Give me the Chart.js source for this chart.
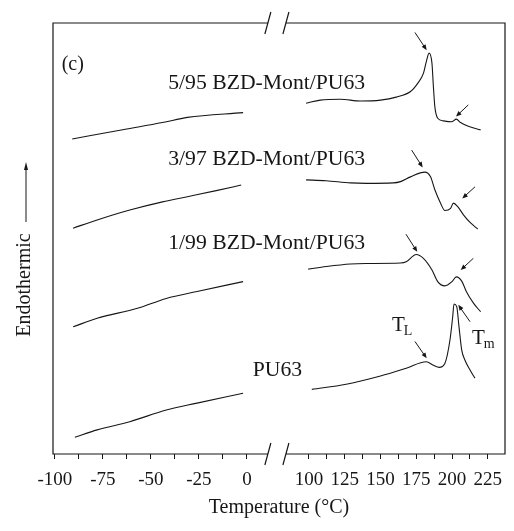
<!DOCTYPE html>
<html>
<head>
<meta charset="utf-8">
<script src="https://cdn.jsdelivr.net/npm/chart.js@4.4.0/dist/chart.umd.min.js"></script>
<style>
  html, body { margin: 0; padding: 0; background: #fff; }
  #wrap { width: 514px; height: 531px; }
</style>
</head>
<body>
<div id="wrap"><canvas id="dsc" width="514" height="531"></canvas></div>
<script>
// DSC heating traces, temperature in °C, heat flow in arbitrary units (endo up)
const curveNames = ['5/95 BZD-Mont/PU63', '3/97 BZD-Mont/PU63', '1/99 BZD-Mont/PU63', 'PU63'];

const t595L = [-91, -64, -44, -31, -2];
const h595L = [73.1, 75.3, 76.9, 78.1, 79.2];
const t595R = [98, 108, 122, 136, 150, 161, 171, 176, 180, 182, 184, 186, 187, 188, 190, 194, 200, 203, 206, 211, 220];
const h595R = [81.4, 82.1, 82.3, 81.9, 82.1, 82.8, 84.1, 86.0, 88.3, 91.0, 93.0, 90.6, 85.2, 80.6, 77.9, 77.3, 77.1, 77.7, 76.9, 76.1, 75.2];

const t397L = [-90.5, -78, -61, -44, -31, -16, -3];
const h397L = [52.4, 54.3, 56.6, 58.5, 59.7, 61.1, 62.4];
const t397R = [98, 112, 129, 140, 159, 164, 171, 181, 185, 188, 192, 195, 199, 201, 204, 208, 213, 218];
const h397R = [63.6, 63.4, 62.9, 62.8, 62.9, 63.2, 64.3, 65.4, 64.3, 61.3, 58.2, 56.5, 57.0, 58.2, 57.4, 55.5, 53.6, 52.2];

const t199L = [-90.5, -78, -57, -42, -26, -2];
const h199L = [29.5, 31.5, 33.8, 36.1, 37.7, 40.0];
const t199R = [99.5, 112, 129, 140, 164, 168, 175, 180, 186, 190, 195, 200, 203, 207, 210, 215, 220];
const h199R = [42.9, 43.5, 44.1, 44.2, 44.3, 44.6, 46.3, 45.4, 42.7, 40.0, 39.0, 40.0, 41.1, 40.0, 37.7, 35.0, 33.0];

const tPUL = [-89.6, -78, -61, -42, -26, -2];
const hPUL = [3.9, 5.6, 7.5, 10.2, 11.8, 14.1];
const tPUR = [102, 126, 150, 168, 182, 187, 191, 195, 198.6, 200.5, 201.4, 203.3, 204.9, 206.8, 209, 212.6, 216];
const hPUR = [15.0, 16.2, 18.1, 19.9, 21.4, 20.6, 20.1, 21.0, 26.5, 31.9, 34.8, 34.2, 29.5, 24.1, 21.8, 19.5, 17.6];

const majorTicks = [-100, -75, -50, -25, 0, 100, 125, 150, 175, 200, 225];
const minorTicks = [-87.5, -62.5, -37.5, -12.5, 112.5, 137.5, 162.5, 187.5, 212.5];

// arrows: [T from, y from, T to, y to]
const arrowMarks = [
  [174.1, 97.8, 182.3, 93.7],
  [211.4, 81.0, 202.8, 78.3],
  [171.8, 70.5, 179.5, 66.5],
  [216.1, 62.0, 207.2, 59.3],
  [167.8, 51.0, 175.7, 46.9],
  [214.9, 45.4, 206.1, 42.7],
  [174.1, 26.1, 182.3, 22.2],
  [212.6, 30.7, 204.4, 34.6]
];
// left edge of each curve label [T, y]
const labelAnchors = [[-41, 86.1], [-41, 68.4], [-41, 49.0], [3, 19.5]];

// broken axis: right part (100..225) is compressed and shifted next to 0
const RIGHT_START = 32.3;
const RIGHT_SCALE = 0.745;
const BREAK_V = [10.9, 20.3];
function toV(t) {
  return t < 50 ? t : RIGHT_START + (t - 100) * RIGHT_SCALE;
}

function buildPoints(tL, hL, tR, hR) {
  const pts = tL.map((t, i) => ({ x: toV(t), y: hL[i] }));
  pts.push({ x: (BREAK_V[0] + BREAK_V[1]) / 2, y: null });
  tR.forEach((t, i) => pts.push({ x: toV(t), y: hR[i] }));
  return pts;
}

const series = [
  buildPoints(t595L, h595L, t595R, h595R),
  buildPoints(t397L, h397L, t397R, h397R),
  buildPoints(t199L, h199L, t199R, h199R),
  buildPoints(tPUL, hPUL, tPUR, hPUR)
];

const SERIF = "'Liberation Serif', 'Times New Roman', serif";
const INK = '#161616';

function drawArrow(ctx, x0, y0, x1, y1) {
  const ang = Math.atan2(y1 - y0, x1 - x0);
  const len = 6;
  ctx.beginPath();
  ctx.moveTo(x0, y0);
  ctx.lineTo(x1 - Math.cos(ang) * 3, y1 - Math.sin(ang) * 3);
  ctx.stroke();
  ctx.beginPath();
  ctx.moveTo(x1, y1);
  ctx.lineTo(x1 - len * Math.cos(ang - 0.4), y1 - len * Math.sin(ang - 0.4));
  ctx.lineTo(x1 - len * Math.cos(ang + 0.4), y1 - len * Math.sin(ang + 0.4));
  ctx.closePath();
  ctx.fill();
}

function subLabel(ctx, x, y, main, sub) {
  ctx.font = '21px ' + SERIF;
  ctx.textAlign = 'left';
  ctx.textBaseline = 'middle';
  ctx.fillText(main, x, y);
  const w = ctx.measureText(main).width;
  ctx.font = '14px ' + SERIF;
  ctx.fillText(sub, x + w - 1, y + 6);
}

const decorPlugin = {
  id: 'decor',
  afterDraw(chart) {
    const { ctx, chartArea: a, scales: { x, y } } = chart;
    const gL = x.getPixelForValue(BREAK_V[0]);
    const gR = x.getPixelForValue(BREAK_V[1]);
    ctx.save();
    ctx.strokeStyle = INK;
    ctx.fillStyle = INK;
    ctx.lineWidth = 1.2;

    // frame with break in top and bottom edges
    ctx.beginPath();
    ctx.moveTo(gL, a.top); ctx.lineTo(a.left, a.top); ctx.lineTo(a.left, a.bottom); ctx.lineTo(gL, a.bottom);
    ctx.moveTo(gR, a.top); ctx.lineTo(a.right, a.top); ctx.lineTo(a.right, a.bottom); ctx.lineTo(gR, a.bottom);
    [a.top, a.bottom].forEach(ey => {
      [gL, gR].forEach(ex => {
        ctx.moveTo(ex - 3, ey + 11);
        ctx.lineTo(ex + 3, ey - 11);
      });
    });
    ctx.stroke();

    // arrows
    ctx.lineWidth = 1;
    arrowMarks.forEach(m => {
      drawArrow(ctx, x.getPixelForValue(toV(m[0])), y.getPixelForValue(m[1]),
        x.getPixelForValue(toV(m[2])), y.getPixelForValue(m[3]));
    });

    // panel tag and curve labels
    ctx.font = '20px ' + SERIF;
    ctx.textAlign = 'left';
    ctx.textBaseline = 'middle';
    ctx.fillText('(c)', x.getPixelForValue(-96.5), y.getPixelForValue(90.3));
    ctx.font = '21.7px ' + SERIF;
    curveNames.forEach((name, i) => {
      const [t, v] = labelAnchors[i];
      ctx.fillText(name, x.getPixelForValue(toV(t)), y.getPixelForValue(v));
    });
    subLabel(ctx, x.getPixelForValue(toV(158)), y.getPixelForValue(29.9), 'T', 'L');
    subLabel(ctx, x.getPixelForValue(toV(214)), y.getPixelForValue(26.9), 'T', 'm');

    // y axis title with upward arrow
    const tx = a.left - 28;
    ctx.save();
    ctx.translate(tx, 285);
    ctx.rotate(-Math.PI / 2);
    ctx.font = '20px ' + SERIF;
    ctx.textAlign = 'center';
    ctx.fillText('Endothermic', 0, 0);
    ctx.restore();
    ctx.beginPath();
    ctx.moveTo(tx + 1, 222);
    ctx.lineTo(tx + 1, 168);
    ctx.stroke();
    ctx.beginPath();
    ctx.moveTo(tx + 1, 162); ctx.lineTo(tx - 1, 170); ctx.lineTo(tx + 3, 170);
    ctx.closePath();
    ctx.fill();
    ctx.restore();
  }
};

new Chart(document.getElementById('dsc'), {
  type: 'line',
  data: {
    datasets: series.map((pts, i) => ({
      label: curveNames[i],
      data: pts,
      borderColor: INK,
      borderWidth: 1.1,
      pointRadius: 0,
      cubicInterpolationMode: 'monotone',
      spanGaps: false,
      fill: false
    }))
  },
  options: {
    responsive: false,
    animation: false,
    layout: { padding: { top: 23, right: 9, left: 0, bottom: 0 } },
    plugins: { legend: { display: false }, tooltip: { enabled: false } },
    scales: {
      x: {
        type: 'linear',
        min: -101,
        max: 134.4,
        afterFit(scale) { scale.height = 77; },
        afterBuildTicks(scale) {
          const all = majorTicks.map(t => ({ value: toV(t), txt: String(t) }))
            .concat(minorTicks.map(t => ({ value: toV(t), txt: '' })));
          all.sort((p, q) => p.value - q.value);
          scale.ticks = all;
        },
        ticks: {
          autoSkip: false,
          maxRotation: 0,
          padding: 10,
          color: INK,
          font: { family: SERIF, size: 19 },
          callback: (value, index, ticks) => ticks[index].txt
        },
        grid: {
          display: true,
          drawOnChartArea: false,
          drawTicks: true,
          tickLength: 5,
          tickColor: INK,
          tickWidth: 1
        },
        border: { display: false },
        title: {
          display: true,
          text: 'Temperature (°C)',
          color: INK,
          font: { family: SERIF, size: 20 },
          padding: { top: 0, bottom: 11 }
        }
      },
      y: {
        type: 'linear',
        min: 0,
        max: 100,
        afterFit(scale) { scale.width = 53; },
        ticks: { display: false },
        grid: { display: false },
        border: { display: false }
      }
    }
  },
  plugins: [decorPlugin]
});
</script>
</body>
</html>
